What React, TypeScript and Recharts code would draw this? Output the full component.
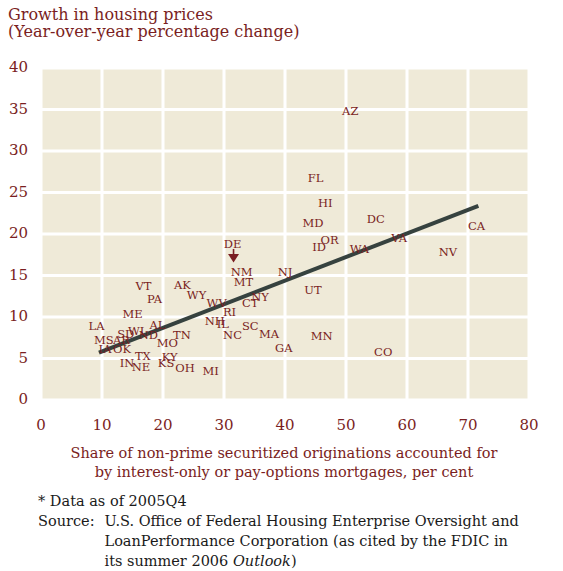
import { CartesianGrid, ReferenceLine, Scatter, ScatterChart, XAxis, YAxis } from "recharts";

const RED = "#7a1e22";
const INK = "#1a1a1a";
const FONT = "'DejaVu Serif', serif";

// state labels, share of IO / pay-option loans (x), house price growth (y)
const STATES = [
  "AZ", "FL", "HI", "MD", "DC", "CA", "VA", "NV", "OR", "ID", "WA", "NJ", "UT",
  "DE", "NM", "MT", "NY", "CT", "WY", "AK", "WV", "RI", "NH", "IL", "SC", "NC",
  "MA", "GA", "MN", "OH", "MI", "CO", "VT", "PA", "ME", "LA", "AL", "TN", "MS",
  "AR", "SD", "WI", "ND", "MO", "IA", "OK", "TX", "IN", "NE", "KY", "KS",
];
const SHARE = [
  50.7, 45.0, 46.6, 44.6, 54.9, 71.4, 58.7, 66.7, 47.3, 45.6, 52.2, 40.0, 44.6,
  31.4, 32.9, 33.2, 35.9, 34.3, 25.5, 23.2, 28.8, 30.9, 28.5, 29.8, 34.3, 31.4,
  37.4, 39.8, 46.0, 23.6, 27.8, 56.1, 16.8, 18.6, 15.0, 9.1, 19.1, 23.1, 10.3,
  13.2, 13.9, 15.6, 17.6, 20.7, 10.5, 13.3, 16.7, 14.1, 16.4, 21.1, 20.5,
];
const GROWTH = [
  34.9, 26.8, 23.8, 21.4, 21.8, 21.0, 19.6, 17.9, 19.3, 18.5, 18.2, 15.5, 13.3,
  18.8, 15.4, 14.3, 12.4, 11.7, 12.7, 13.9, 11.7, 10.6, 9.6, 9.2, 9.0, 7.8,
  8.0, 6.3, 7.7, 3.9, 3.5, 5.8, 13.7, 12.2, 10.4, 9.0, 9.1, 7.9, 7.2,
  7.3, 8.0, 8.3, 7.8, 6.9, 6.2, 6.2, 5.3, 4.5, 4.0, 5.2, 4.5,
];

// fitted line end points
const TREND_X = [9.5, 71.7];
const TREND_Y = [5.7, 23.4];

const X_TICKS = [0, 10, 20, 30, 40, 50, 60, 70, 80];
const Y_TICKS = [0, 5, 10, 15, 20, 25, 30, 35, 40];

const points = STATES.map((s, i) => ({ state: s, x: SHARE[i], y: GROWTH[i] }));

function StateLabel(props: any) {
  const { cx, cy, payload } = props;
  if (cx == null || cy == null) return null;
  const label = (
    <text
      x={cx}
      y={cy + 4.2}
      textAnchor="middle"
      fontFamily={FONT}
      fontSize={11.5}
      fill={RED}
    >
      {payload.state}
    </text>
  );
  if (payload.state !== "DE") return label;
  // DE is flagged with a small arrow below it
  return (
    <g>
      {label}
      <line x1={cx + 1} y1={cy + 5} x2={cx + 1} y2={cy + 11} stroke={RED} strokeWidth={1.6} />
      <path d={`M${cx - 4.5},${cy + 10} L${cx + 6.5},${cy + 10} L${cx + 1},${cy + 18.5} Z`} fill={RED} />
    </g>
  );
}

function XTick({ x, payload }: any) {
  return (
    <text x={x} y={429.5} textAnchor="middle" fontFamily={FONT} fontSize={15} fill={RED}>
      {payload.value}
    </text>
  );
}

function LeftTick({ y, payload }: any) {
  return (
    <text x={28} y={y + 4} textAnchor="end" fontFamily={FONT} fontSize={15} fill={RED}>
      {payload.value}
    </text>
  );
}

function RightTick({ y, payload }: any) {
  return (
    <text x={560} y={y + 4} textAnchor="end" fontFamily={FONT} fontSize={15} fill={RED}>
      {payload.value}
    </text>
  );
}

export default function App() {
  return (
    <div style={{ position: "absolute", left: 0, top: 0, width: 563, height: 571, background: "#fff" }}>
      <ScatterChart
        width={563}
        height={571}
        margin={{ top: 68, right: 0, bottom: 131, left: 0 }}
      >
        <CartesianGrid fill="#efead8" stroke="#ffffff" strokeWidth={3} />
        <XAxis
          type="number"
          dataKey="x"
          domain={[0, 80]}
          ticks={X_TICKS}
          height={40}
          axisLine={false}
          tickLine={false}
          tick={<XTick />}
        />
        <YAxis
          type="number"
          dataKey="y"
          domain={[0, 40]}
          ticks={Y_TICKS}
          width={41}
          axisLine={false}
          tickLine={false}
          tick={<LeftTick />}
        />
        <YAxis
          yAxisId="r"
          orientation="right"
          type="number"
          domain={[0, 40]}
          ticks={Y_TICKS}
          width={34}
          axisLine={false}
          tickLine={false}
          tick={<RightTick />}
        />
        <ReferenceLine
          segment={[
            { x: TREND_X[0], y: TREND_Y[0] },
            { x: TREND_X[1], y: TREND_Y[1] },
          ]}
          stroke="#36423f"
          strokeWidth={4}
        />
        <Scatter data={points} shape={<StateLabel />} isAnimationActive={false} />
      </ScatterChart>
      <svg
        width={563}
        height={571}
        style={{ position: "absolute", left: 0, top: 0, pointerEvents: "none" }}
        fontFamily={FONT}
      >
        <text x={8} y={20} fontSize={16} fill={RED}>Growth in housing prices</text>
        <text x={8} y={37} fontSize={16} fill={RED}>(Year-over-year percentage change)</text>
        <text x={284} y={458} fontSize={14.5} fill={RED} textAnchor="middle">
          Share of non-prime securitized originations accounted for
        </text>
        <text x={284} y={477} fontSize={14.5} fill={RED} textAnchor="middle">
          by interest-only or pay-options mortgages, per cent
        </text>
        <text x={38} y={506} fontSize={14.5} fill={INK}>* Data as of 2005Q4</text>
        <text x={38} y={526} fontSize={14.5} fill={INK}>Source:</text>
        <text x={104.5} y={526} fontSize={14.5} fill={INK}>
          U.S. Office of Federal Housing Enterprise Oversight and
        </text>
        <text x={104.5} y={546} fontSize={14.5} fill={INK}>
          LoanPerformance Corporation (as cited by the FDIC in
        </text>
        <text x={104.5} y={566} fontSize={14.5} fill={INK}>
          its summer 2006 <tspan fontStyle="italic">Outlook</tspan>)
        </text>
      </svg>
    </div>
  );
}
